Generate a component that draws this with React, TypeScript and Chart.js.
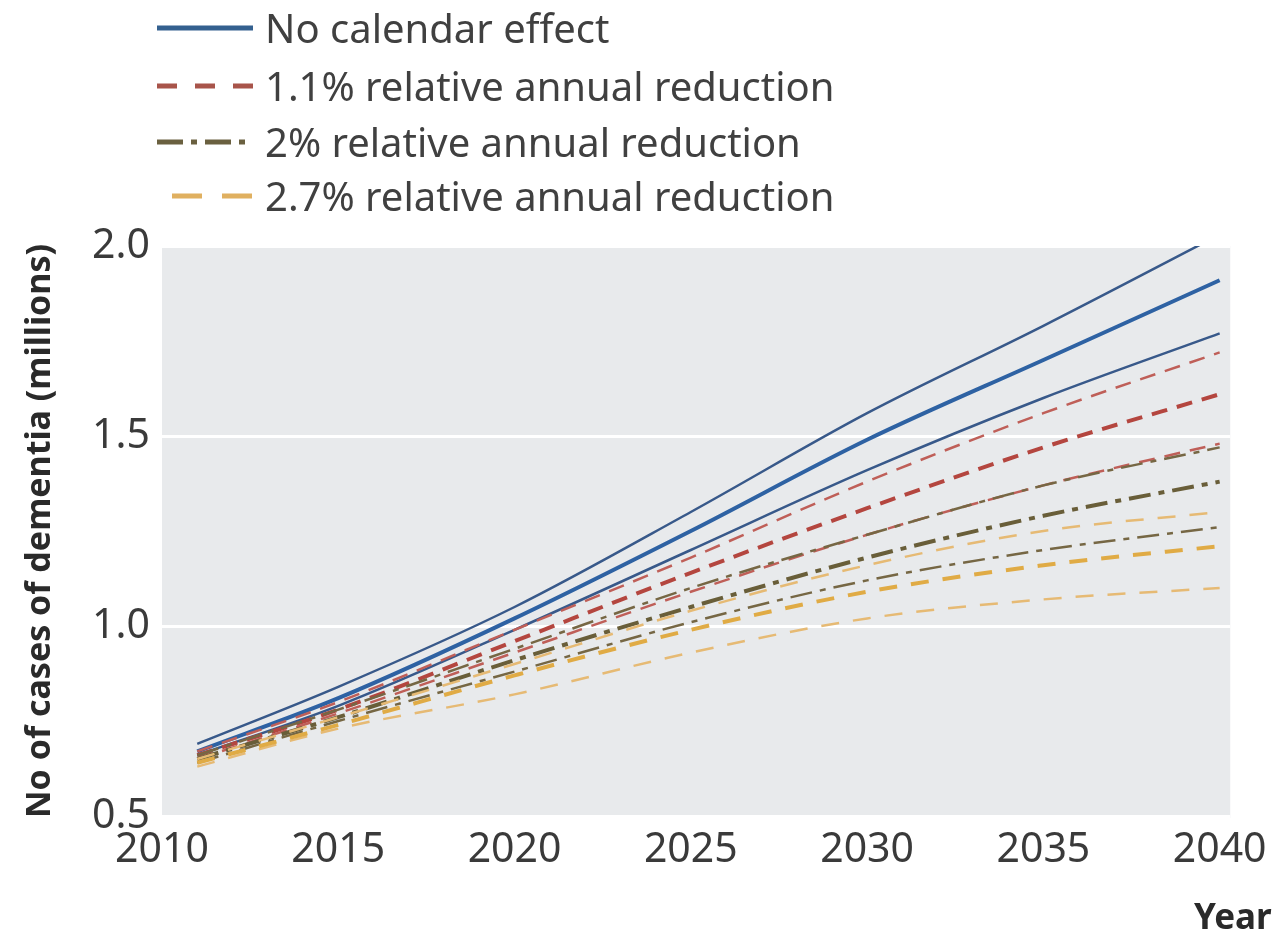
import React, { useEffect, useRef } from "react";
import { Chart, registerables } from "chart.js";

Chart.register(...registerables);

// ---- Data (millions of dementia cases) ----
const YEARS = [2011, 2015, 2020, 2025, 2030, 2035, 2040];
const X_TICKS = [2010, 2015, 2020, 2025, 2030, 2035, 2040];
const Y_TICKS = [0.5, 1.0, 1.5, 2.0];

const SERIES_LABELS = [
  "No calendar effect",
  "1.1% relative annual reduction",
  "2% relative annual reduction",
  "2.7% relative annual reduction",
];

const NO_EFFECT_HI = [0.69, 0.84, 1.05, 1.3, 1.56, 1.79, 2.03];
const NO_EFFECT = [0.67, 0.81, 1.02, 1.25, 1.49, 1.7, 1.91];
const NO_EFFECT_LO = [0.66, 0.79, 0.99, 1.2, 1.41, 1.6, 1.77];

const RED_1_1_HI = [0.67, 0.8, 0.99, 1.18, 1.38, 1.56, 1.72];
const RED_1_1 = [0.66, 0.78, 0.96, 1.14, 1.31, 1.47, 1.61];
const RED_1_1_LO = [0.65, 0.77, 0.93, 1.09, 1.24, 1.37, 1.48];

const RED_2_HI = [0.66, 0.78, 0.94, 1.1, 1.24, 1.37, 1.47];
const RED_2 = [0.65, 0.76, 0.91, 1.05, 1.18, 1.29, 1.38];
const RED_2_LO = [0.64, 0.75, 0.88, 1.01, 1.12, 1.2, 1.26];

const RED_2_7_HI = [0.65, 0.76, 0.9, 1.04, 1.16, 1.25, 1.3];
const RED_2_7 = [0.64, 0.74, 0.87, 0.99, 1.09, 1.16, 1.21];
const RED_2_7_LO = [0.63, 0.73, 0.82, 0.93, 1.02, 1.07, 1.1];

const SCENARIOS = [
  [NO_EFFECT_HI, NO_EFFECT, NO_EFFECT_LO],
  [RED_1_1_HI, RED_1_1, RED_1_1_LO],
  [RED_2_HI, RED_2, RED_2_LO],
  [RED_2_7_HI, RED_2_7, RED_2_7_LO],
];

// ---- Styles ----
const STYLES = [
  { main: "#2e62a3", bound: "#38598a", legend: "#34608f", dash: [] as number[], legendDash: "", legendStart: 157 },
  { main: "#b4463f", bound: "#bf5f58", legend: "#a8544a", dash: [16, 10], legendDash: "20 18", legendStart: 157 },
  { main: "#695e39", bound: "#766744", legend: "#6a6040", dash: [22, 8, 6, 8], legendDash: "26 8 6 8", legendStart: 157 },
  { main: "#e0ab45", bound: "#e6ba74", legend: "#e0b060", dash: [18, 14], legendDash: "30 20", legendStart: 172 },
];

const W = 1269;
const H = 921;
const FONT = '"Noto Sans", "Open Sans", sans-serif';

const bgPlugin = {
  id: "plotBg",
  beforeDraw(chart: any) {
    const { ctx, chartArea } = chart;
    if (!chartArea) return;
    ctx.save();
    ctx.fillStyle = "#e8eaec";
    ctx.fillRect(chartArea.left, chartArea.top, chartArea.right - chartArea.left, chartArea.bottom - chartArea.top + 2);
    ctx.restore();
  },
};

export default function App() {
  const ref = useRef<HTMLCanvasElement | null>(null);

  useEffect(() => {
    if (!ref.current) return;
    const datasets: any[] = [];
    const order = [3, 2, 1, 0];
    order.forEach((si) => {
      const st = STYLES[si];
      SCENARIOS[si].forEach((vals, k) => {
        const isMain = k === 1;
        datasets.push({
          label: SERIES_LABELS[si] + (isMain ? "" : k === 0 ? " (upper)" : " (lower)"),
          data: YEARS.map((y, i) => ({ x: y, y: vals[i] })),
          borderColor: isMain ? st.main : st.bound,
          borderWidth: isMain ? 4 : 2.5,
          borderDash: st.dash,
          pointRadius: 0,
          fill: false,
          cubicInterpolationMode: "monotone",
        });
      });
    });

    const chart = new Chart(ref.current, {
      type: "line",
      data: { datasets },
      plugins: [bgPlugin],
      options: {
        animation: false,
        responsive: false,
        layout: { padding: { top: 238, right: 45, left: 0, bottom: 0 } },
        plugins: { legend: { display: false }, tooltip: { enabled: false } },
        scales: {
          x: {
            type: "linear",
            min: 2010,
            max: 2040.3,
            afterFit: (s: any) => {
              s.height = 113;
            },
            afterBuildTicks: (s: any) => {
              s.ticks = X_TICKS.map((v) => ({ value: v }));
            },
            ticks: {
              callback: (v: any) => String(v),
              font: { family: FONT, size: 41 },
              color: "#3a3a3a",
              padding: 10,
              maxRotation: 0,
              autoSkip: false,
            },
            grid: { display: false, drawTicks: false },
            border: { display: false },
          },
          y: {
            min: 0.5,
            max: 2.0,
            afterFit: (s: any) => {
              s.width = 154;
            },
            afterBuildTicks: (s: any) => {
              s.ticks = Y_TICKS.map((v) => ({ value: v }));
            },
            ticks: {
              callback: (v: any) => Number(v).toFixed(1),
              font: { family: FONT, size: 41 },
              color: "#3a3a3a",
              padding: 12,
            },
            grid: { color: "#ffffff", lineWidth: 3, drawTicks: false },
            border: { display: false },
            title: {
              display: true,
              text: "No of cases of dementia (millions)",
              font: { family: FONT, size: 34, weight: "bold" },
              color: "#2a2a2a",
              padding: { top: 12, bottom: 0 },
            },
          },
        },
      },
    } as any);
    return () => chart.destroy();
  }, []);

  const rowCenters = [20, 78, 134, 188];

  return (
    <div style={{ position: "relative", width: W, height: H }}>
      <canvas ref={ref} width={W} height={H} style={{ position: "absolute", left: 0, top: 0 }} />
      <svg width={W} height={230} style={{ position: "absolute", left: 0, top: 0 }}>
        {STYLES.map((st, i) => (
          <line
            key={i}
            x1={st.legendStart - 8}
            x2={245}
            y1={rowCenters[i]}
            y2={rowCenters[i]}
            stroke={st.legend}
            strokeWidth={5}
            strokeDasharray={st.legendDash || undefined}
          />
        ))}
      </svg>
      {SERIES_LABELS.map((t, i) => (
        <div
          key={i}
          style={{
            position: "absolute",
            left: 257,
            top: rowCenters[i] - 27,
            fontFamily: FONT,
            fontSize: 40,
            lineHeight: "54px",
            color: "#404040",
            whiteSpace: "nowrap",
          }}
        >
          {t}
        </div>
      ))}
      <div
        style={{
          position: "absolute",
          left: 1186,
          top: 888,
          fontFamily: FONT,
          fontSize: 35,
          fontWeight: "bold",
          lineHeight: "40px",
          color: "#2a2a2a",
          whiteSpace: "nowrap",
        }}
      >
        Year
      </div>
    </div>
  );
}
